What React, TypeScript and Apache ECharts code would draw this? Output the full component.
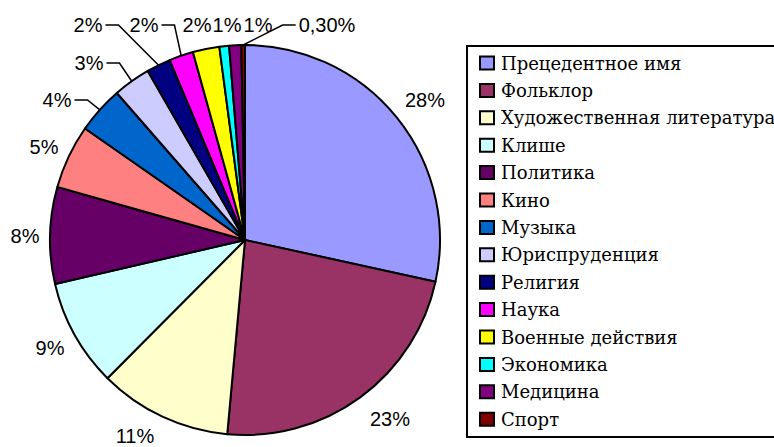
import React, { useEffect, useRef } from "react";
import * as echarts from "echarts";

// ---- data ----
const categories = [
  "Прецедентное имя",
  "Фольклор",
  "Художественная литература",
  "Клише",
  "Политика",
  "Кино",
  "Музыка",
  "Юриспруденция",
  "Религия",
  "Наука",
  "Военные действия",
  "Экономика",
  "Медицина",
  "Спорт",
];
const shares = [28.4, 23.0, 11.0, 8.9, 8.0, 5.3, 3.9, 3.1, 2.0, 2.0, 2.2, 0.8, 1.0, 0.3];
const labelTexts = ["28%", "23%", "11%", "9%", "8%", "5%", "4%", "3%", "2%", "2%", "2%", "1%", "1%", "0,30%"];
const colors = [
  "#9999FF", "#993366", "#FFFFCC", "#CCFFFF", "#660066", "#FF8080", "#0066CC",
  "#CCCCFF", "#000080", "#FF00FF", "#FFFF00", "#00FFFF", "#800080", "#800000",
];

// ---- layout ----
const CX = 245;
const CY = 240;
const R = 195;
// label anchor positions (text centres), as Excel placed them
const LABEL_POS: [number, number][] = [
  [425, 100], [390, 419], [135, 436], [50, 348], [25, 236], [44, 147], [57, 100],
  [89, 63], [88, 25], [144, 25], [197, 25], [227, 25], [258, 25], [327, 25],
];
const LEADERS = [6, 7, 8, 9, 13];
const SANS = "Liberation Sans";
const SERIF = "DejaVu Serif";

// legend box layout
const LEG_X = 467;
const LEG_Y = 46;
const LEG_W = 340;
const LEG_H = 391;
const LEG_ROW0 = 63;
const LEG_STEP = 27.4;
const LEG_SYM_X = 480;
const LEG_TEXT_X = 501;

export default function App() {
  const ref = useRef<HTMLDivElement>(null);
  useEffect(() => {
    if (!ref.current) return;
    const chart = echarts.init(ref.current, undefined, { renderer: "svg" });
    const total = shares.reduce((a, b) => a + b, 0);
    const mids: number[] = [];
    let acc = 0;
    shares.forEach((v) => {
      mids.push(((acc + v / 2) / total) * Math.PI * 2);
      acc += v;
    });

    const legendItems: any[] = [];
    categories.forEach((name, i) => {
      const cy = LEG_ROW0 + i * LEG_STEP;
      legendItems.push({
        type: "rect",
        shape: { x: LEG_SYM_X, y: cy - 6.5, width: 14, height: 13 },
        style: { fill: colors[i], stroke: "#000", lineWidth: 2 },
      });
      legendItems.push({
        type: "text",
        x: LEG_TEXT_X,
        y: cy,
        style: {
          text: name,
          fontFamily: SERIF,
          fontSize: 18,
          fill: "#000",
          align: "left",
          verticalAlign: "middle",
        },
      });
    });

    chart.setOption({
      animation: false,
      backgroundColor: "#fff",
      graphic: [
        {
          type: "rect",
          shape: { x: LEG_X, y: LEG_Y, width: LEG_W, height: LEG_H },
          style: { fill: "#fff", stroke: "#000", lineWidth: 2 },
        },
        ...legendItems,
      ],
      series: [
        {
          type: "pie",
          center: [CX, CY],
          radius: R,
          startAngle: 90,
          clockwise: true,
          avoidLabelOverlap: false,
          emphasis: { disabled: true },
          itemStyle: { borderColor: "#000", borderWidth: 2 },
          label: {
            show: true,
            position: "outside",
            fontFamily: SANS,
            fontSize: 20,
            color: "#000",
            formatter: (p: any) => labelTexts[p.dataIndex],
          },
          labelLine: {
            show: true,
            lineStyle: { color: "#000", width: 1.5 },
          },
          labelLayout: (p: any) => {
            const i = p.dataIndex;
            const w = p.labelRect.width;
            const s = Math.sin(mids[i]);
            const c = Math.cos(mids[i]);
            const edge = [CX + R * s, CY - R * c];
            const [x, y] = LABEL_POS[i];
            const out: any = { x, y, align: "center", verticalAlign: "middle" };
            if (LEADERS.includes(i)) {
              const side = x < edge[0] ? 1 : -1;
              const endX = x + side * (w / 2 + 3);
              const elbowX = endX + side * 13;
              out.labelLinePoints = [edge, [elbowX, y], [endX, y]];
            }
            return out;
          },
          data: categories.map((name, i) => ({
            name,
            value: shares[i],
            itemStyle: { color: colors[i] },
            labelLine: { show: LEADERS.includes(i) },
          })),
        },
      ],
    });
    return () => chart.dispose();
  }, []);
  return (
    <div
      ref={ref}
      style={{ position: "absolute", left: 0, top: 0, width: 774, height: 447, background: "#fff" }}
    />
  );
}
